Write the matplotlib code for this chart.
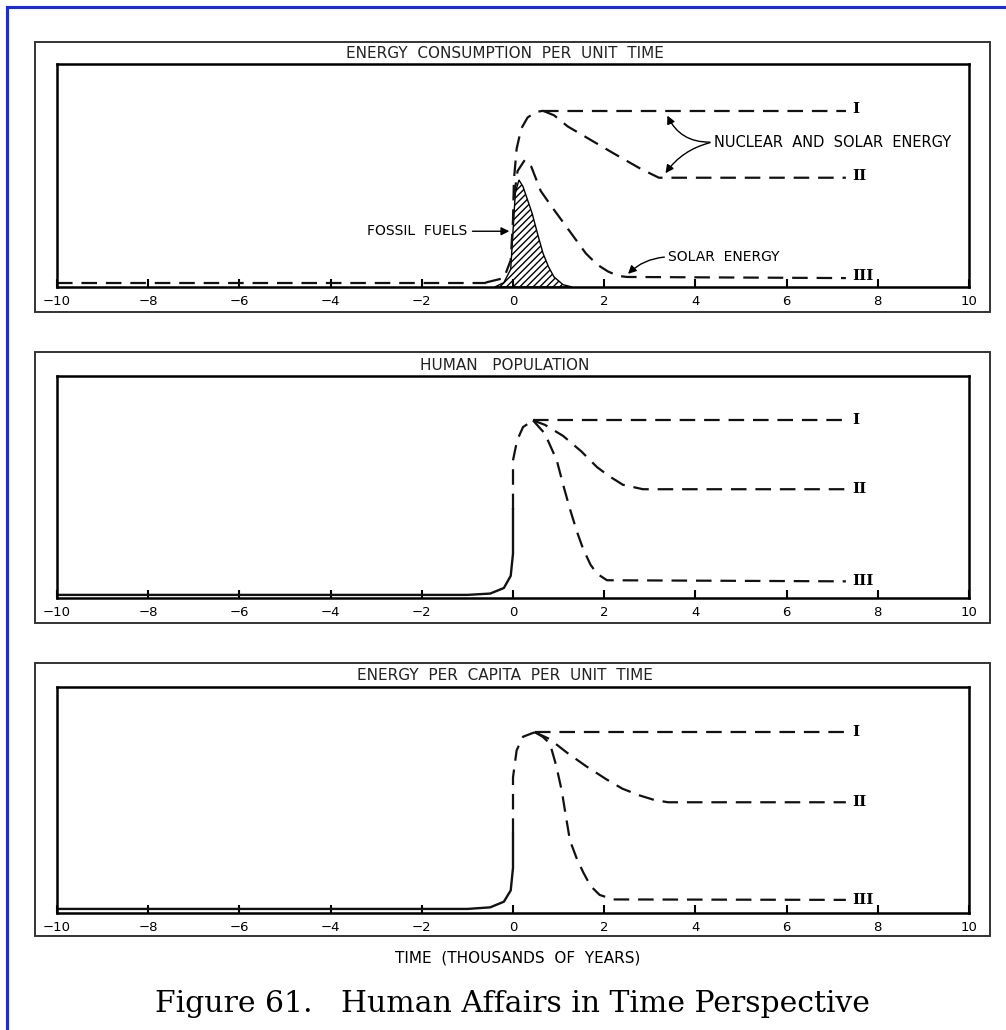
import matplotlib.pyplot as plt
from matplotlib.patches import Rectangle
import numpy as np

# ---- data (x in thousands of years, y as fraction of panel height) ----
ticks = [-10, -8, -6, -4, -2, 0, 2, 4, 6, 8, 10]

# panel 1: energy consumption per unit time
e_base_x = [-10, -0.6]
e_base_y = [0.02, 0.02]
e_rise_x = [-0.6, -0.2, -0.05, 0.0, 0.02, 0.08, 0.18, 0.32, 0.5, 0.66]
e_rise_y = [0.02, 0.04, 0.12, 0.30, 0.48, 0.62, 0.71, 0.76, 0.785, 0.79]
e_I_x = [0.66, 7.3]
e_I_y = [0.79, 0.79]
e_II_x = [0.66, 0.9, 1.2, 1.7, 2.2, 2.8, 3.2, 7.3]
e_II_y = [0.79, 0.77, 0.72, 0.66, 0.60, 0.53, 0.49, 0.49]
e_III_x = [0.02, 0.1, 0.26, 0.4, 0.61, 0.85, 1.1, 1.35, 1.6, 1.85, 2.08, 2.3, 2.5, 7.3]
e_III_y = [0.40, 0.52, 0.57, 0.54, 0.43, 0.36, 0.29, 0.22, 0.15, 0.10, 0.07, 0.05, 0.045, 0.04]
fossil_x = [-0.4, -0.2, -0.05, 0.0, 0.05, 0.13, 0.22, 0.32, 0.42, 0.55, 0.66, 0.78, 0.9, 1.1, 1.3]
fossil_y = [0.0, 0.02, 0.08, 0.25, 0.42, 0.48, 0.45, 0.39, 0.33, 0.23, 0.15, 0.09, 0.045, 0.01, 0.0]

# panel 2: human population
p_solid_x = [-10, -1.0, -0.5, -0.2, -0.05, 0.0, 0.0]
p_solid_y = [0.014, 0.014, 0.02, 0.045, 0.10, 0.20, 0.40]
p_rise_x = [0.0, 0.0, 0.09, 0.22, 0.44]
p_rise_y = [0.40, 0.62, 0.71, 0.77, 0.80]
p_I_x = [0.44, 7.3]
p_I_y = [0.80, 0.80]
p_II_x = [0.44, 0.7, 1.1, 1.5, 1.84, 2.1, 2.41, 2.85, 7.3]
p_II_y = [0.80, 0.78, 0.73, 0.66, 0.59, 0.55, 0.51, 0.49, 0.49]
p_III_x = [0.44, 0.7, 0.96, 1.1, 1.25, 1.4, 1.54, 1.7, 1.84, 2.06, 7.3]
p_III_y = [0.80, 0.74, 0.62, 0.51, 0.40, 0.30, 0.22, 0.15, 0.11, 0.08, 0.075]

# panel 3: energy per capita per unit time
c_solid_x = [-10, -1.0, -0.5, -0.2, -0.05, 0.0, 0.0]
c_solid_y = [0.018, 0.018, 0.025, 0.05, 0.10, 0.20, 0.35]
c_rise_x = [0.0, 0.0, 0.08, 0.22, 0.48]
c_rise_y = [0.35, 0.60, 0.72, 0.78, 0.80]
c_I_x = [0.48, 7.3]
c_I_y = [0.80, 0.80]
c_II_x = [0.48, 0.8, 1.18, 1.6, 2.06, 2.4, 2.78, 3.1, 3.4, 7.3]
c_II_y = [0.80, 0.77, 0.71, 0.65, 0.59, 0.55, 0.52, 0.50, 0.49, 0.49]
c_III_x = [0.48, 0.65, 0.81, 0.95, 1.07, 1.15, 1.25, 1.4, 1.54, 1.7, 1.9, 2.2, 7.3]
c_III_y = [0.80, 0.78, 0.75, 0.65, 0.54, 0.44, 0.32, 0.24, 0.18, 0.12, 0.08, 0.06, 0.058]

titles = ["ENERGY  CONSUMPTION  PER  UNIT  TIME", "HUMAN   POPULATION",
          "ENERGY  PER  CAPITA  PER  UNIT  TIME"]
roman = ["I", "II", "III"]

W, H = 1006, 1030
fig = plt.figure(figsize=(W / 100, H / 100), dpi=100)

def fx(px):
    return px / W

def fy(py):
    return 1 - py / H

# blue scan border (left and top)
fig.add_artist(plt.Line2D([fx(7), fx(7)], [0, fy(7)], color='#1a2ae6', lw=2.2))
fig.add_artist(plt.Line2D([fx(7), 1], [fy(7), fy(7)], color='#1a2ae6', lw=2.2))

# (outer top, title y, inner top, axis y, outer bottom) in pixels
layout = [(42, 53, 64, 287, 312), (352, 365, 376, 598, 623), (663, 676, 687, 913, 936)]
inner_l, inner_r = 57, 969
outer_l, outer_r = 35, 990

dash = dict(ls=(0, (7, 4)), color='#111111', lw=1.6)
sans = 'DejaVu Sans'
axes = []
for i, (ot, ty, it, ay, ob) in enumerate(layout):
    fig.add_artist(Rectangle((fx(outer_l), fy(ob)), fx(outer_r) - fx(outer_l), fy(ot) - fy(ob),
                             transform=fig.transFigure, fill=False, ec='#333333', lw=1.4))
    fig.text(fx(505), fy(ty), titles[i], ha='center', va='center', fontsize=11,
             family=sans, color='#222222')
    ax = fig.add_axes([fx(inner_l), fy(ay), fx(inner_r) - fx(inner_l), fy(it) - fy(ay)])
    ax.set_xlim(-10, 10)
    ax.set_ylim(0, 1)
    ax.set_xticks(ticks)
    ax.set_xticklabels([str(t) if t >= 0 else '\u2212' + str(-t) for t in ticks])
    ax.set_yticks([])
    ax.tick_params(axis='x', direction='in', length=6, width=1.5, pad=5.5, labelsize=9.5)
    for s in ax.spines.values():
        s.set_linewidth(1.8)
    axes.append(ax)

roman_style = dict(ha='left', va='center', fontsize=11, family='DejaVu Serif', fontweight='bold')

# panel 1
ax = axes[0]
ax.plot(e_base_x, e_base_y, **dash)
ax.plot(e_rise_x, e_rise_y, **dash)
ax.plot(e_I_x, e_I_y, **dash)
ax.plot(e_II_x, e_II_y, **dash)
ax.plot(e_III_x, e_III_y, **dash)
ax.fill(fossil_x, fossil_y, fill=False, hatch='/////', ec='black', lw=1.0)
for lab, yv in zip(roman, [e_I_y[-1], e_II_y[-1], e_III_y[-1]]):
    ax.text(7.45, yv + 0.01, lab, **roman_style)
ax.text(-1.0, 0.25, "FOSSIL  FUELS", ha='right', va='center', fontsize=10, family=sans)
ax.annotate("", xy=(-0.02, 0.25), xytext=(-0.95, 0.25),
            arrowprops=dict(arrowstyle='-|>', color='black', lw=1.0, mutation_scale=12))
ax.text(4.4, 0.65, "NUCLEAR  AND  SOLAR  ENERGY", ha='left', va='center', fontsize=10.5,
        family=sans)
ax.annotate("", xy=(3.36, 0.78), xytext=(4.38, 0.65),
            arrowprops=dict(arrowstyle='-|>', color='black', lw=1.0, mutation_scale=12,
                            connectionstyle='arc3,rad=-0.35'))
ax.annotate("", xy=(3.31, 0.50), xytext=(4.38, 0.65),
            arrowprops=dict(arrowstyle='-|>', color='black', lw=1.0, mutation_scale=12,
                            connectionstyle='arc3,rad=0.2'))
ax.text(3.4, 0.135, "SOLAR  ENERGY", ha='left', va='center', fontsize=10, family=sans)
ax.annotate("", xy=(2.48, 0.05), xytext=(3.38, 0.135),
            arrowprops=dict(arrowstyle='-|>', color='black', lw=1.0, mutation_scale=12,
                            connectionstyle='arc3,rad=0.2'))

# panel 2
ax = axes[1]
ax.plot(p_solid_x, p_solid_y, color='#111111', lw=1.7)
ax.plot(p_rise_x, p_rise_y, **dash)
ax.plot(p_I_x, p_I_y, **dash)
ax.plot(p_II_x, p_II_y, **dash)
ax.plot(p_III_x, p_III_y, **dash)
for lab, yv in zip(roman, [p_I_y[-1], p_II_y[-1], p_III_y[-1]]):
    ax.text(7.45, yv, lab, **roman_style)

# panel 3
ax = axes[2]
ax.plot(c_solid_x, c_solid_y, color='#111111', lw=1.7)
ax.plot(c_rise_x, c_rise_y, **dash)
ax.plot(c_I_x, c_I_y, **dash)
ax.plot(c_II_x, c_II_y, **dash)
ax.plot(c_III_x, c_III_y, **dash)
for lab, yv in zip(roman, [c_I_y[-1], c_II_y[-1], c_III_y[-1]]):
    ax.text(7.45, yv, lab, **roman_style)

fig.text(fx(518), fy(958), "TIME  (THOUSANDS  OF  YEARS)", ha='center', va='center',
         fontsize=11, family=sans)
fig.text(fx(512), fy(1004), "Figure 61.   Human Affairs in Time Perspective", ha='center',
         va='center', fontsize=21.5, family='DejaVu Serif')

fig.savefig("out.png", dpi=100)
